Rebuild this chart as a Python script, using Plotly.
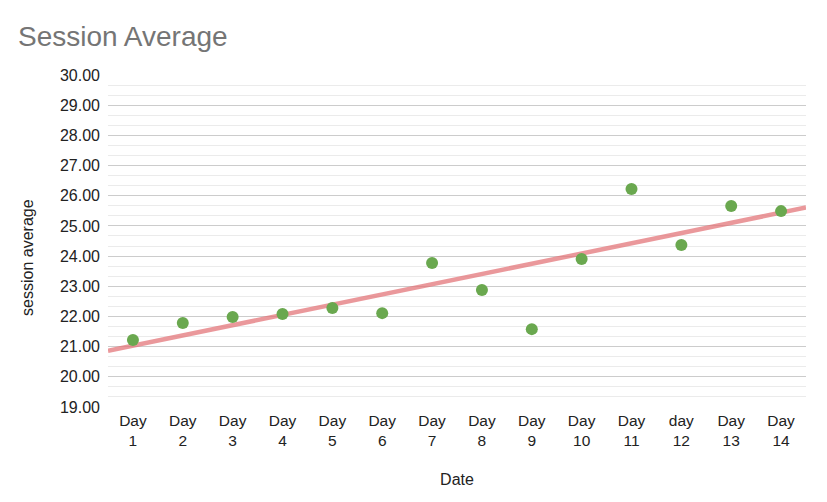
import numpy as np
import plotly.graph_objects as go

days = ["Day<br>1", "Day<br>2", "Day<br>3", "Day<br>4", "Day<br>5", "Day<br>6", "Day<br>7",
        "Day<br>8", "Day<br>9", "Day<br>10", "Day<br>11", "day<br>12", "Day<br>13", "Day<br>14"]
session_avg = [21.22, 21.78, 21.98, 22.08, 22.28, 22.11, 23.77,
               22.88, 21.58, 23.90, 26.22, 24.37, 25.66, 25.49]
y_ticks = [19, 20, 21, 22, 23, 24, 25, 26, 27, 28, 29, 30]

idx = np.arange(len(days))
slope, intercept = np.polyfit(idx, session_avg, 1)
tx = np.array([-0.5, len(days) - 0.5])
ty = slope * tx + intercept

font_family = "Liberation Sans, Arial, sans-serif"

fig = go.Figure()
fig.add_trace(go.Scatter(x=tx, y=ty, mode="lines",
                         line=dict(color="rgba(226,112,116,0.72)", width=4.5),
                         hoverinfo="skip", showlegend=False))
fig.add_trace(go.Scatter(x=idx, y=session_avg, mode="markers",
                         marker=dict(color="#6aa84f", size=12),
                         showlegend=False))

fig.update_layout(
    width=827, height=502,
    margin=dict(l=100, r=29, t=67, b=103),
    paper_bgcolor="white", plot_bgcolor="white",
    font=dict(family=font_family, size=16, color="#222222"),
    title=dict(text="Session Average", x=10 / 827, xanchor="left", y=1 - 28 / 502, yanchor="middle",
               font=dict(family=font_family, size=28, color="#757575")),
    xaxis=dict(range=[-0.5, len(days) - 0.5], tickmode="array", tickvals=list(idx), ticktext=days,
               showgrid=False, zeroline=False, showline=False, ticks="",
               tickfont=dict(size=15.5, color="#222222"), ticklabelstandoff=2,
               title=dict(text="Date", font=dict(size=16, color="#222222"), standoff=26)),
    yaxis=dict(range=[19, 30], tickmode="array", tickvals=y_ticks,
               ticktext=[f"{v:.2f}" for v in y_ticks],
               gridcolor="#cccccc", gridwidth=1, zeroline=False, showline=False,
               ticks="", ticklen=0, ticklabelstandoff=7,
               tickfont=dict(size=16, color="#222222"),
               minor=dict(dtick=1 / 3, tick0=19, showgrid=True, gridcolor="#ebebeb", gridwidth=1)),
    annotations=[dict(text="session average", textangle=-90, xref="paper", yref="paper",
                      x=-0.1146, y=0.449, xanchor="center", yanchor="middle", showarrow=False,
                      font=dict(size=16, color="#222222"))],
)

fig.write_html("out.html")
